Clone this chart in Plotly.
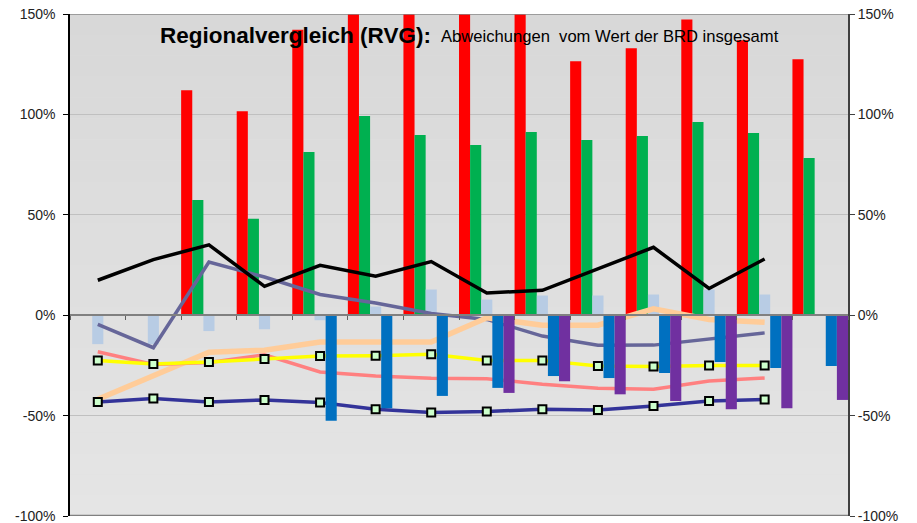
import plotly.graph_objects as go

categories = [f"Region {i}" for i in range(1, 15)]
line_categories = categories[:13]

# bar series (percent deviation)
red_vals = [None, None, 112.0, 101.6, 142.2, 152.0, 152.0, 152.0, 152.0, 126.5, 132.9, 147.3, 136.9, 127.5]
green_vals = [None, None, 57.4, 48.0, 81.3, 99.2, 89.7, 84.8, 91.2, 87.2, 89.2, 96.2, 90.7, 78.3]
lightblue_vals = [-14.4, -14.5, -7.9, -7.0, -2.5, 4.3, 12.8, 7.8, 9.8, 9.8, 10.3, 12.8, 10.3, None]
blue_vals = [None, None, None, None, -52.6, -46.3, -40.2, -36.2, -30.3, -31.3, -28.8, -23.3, -26.3, -25.3]
purple_vals = [None, None, None, None, None, None, None, -38.7, -32.9, -39.4, -42.7, -46.8, -46.3, -42.2]

# line series
black_vals = [17.4, 27.7, 35.0, 14.4, 24.8, 19.4, 26.7, 11.1, 12.4, 23.0, 33.8, 13.3, 28.0]
slate_vals = [-4.6, -16.2, 26.5, 19.0, 10.3, 6.1, 0.8, -2.1, -10.4, -15.0, -14.9, -11.7, -8.8]
yellow_vals = [-22.5, -24.3, -23.3, -21.8, -20.3, -20.2, -19.5, -22.5, -22.5, -25.3, -25.5, -25.1, -25.0]
navy_vals = [-43.2, -41.5, -43.2, -42.2, -43.5, -46.8, -48.5, -48.0, -46.8, -47.2, -45.2, -42.7, -42.0]
peach_vals = [-41.9, -30.0, -18.4, -17.4, -13.4, -13.3, -13.4, -1.3, -5.0, -5.0, 3.2, -2.1, -3.5]
salmon_vals = [-18.2, -24.5, -23.6, -19.7, -28.3, -30.3, -31.4, -31.6, -34.4, -36.4, -36.9, -32.8, -31.3]

tick_vals = [-100, -50, 0, 50, 100, 150]
tick_text = ["-100%", "-50%", "0%", "50%", "100%", "150%"]

FONT = "Arial, Liberation Sans, sans-serif"
W, H = 917, 523
ML, MR, MT, MB = 70, 69, 14, 7
YR = [-100, 150]

fig = go.Figure()

def bar(vals, color, offset, yaxis="y"):
    fig.add_trace(go.Bar(x=categories, y=vals, marker=dict(color=color, line=dict(width=0)),
                         width=0.2, offset=offset, yaxis=yaxis, showlegend=False, hoverinfo="skip"))

bar(red_vals, "#ff0000", -0.5)
bar(green_vals, "#00b050", -0.3)
bar(lightblue_vals, "#b8cce4", -0.1)

def line(vals, color, width, markers=False):
    fig.add_trace(go.Scatter(
        x=line_categories, y=vals, mode="lines+markers" if markers else "lines",
        line=dict(color=color, width=width),
        marker=dict(symbol="square", size=8, color="#ccffcc", line=dict(color="#000000", width=2)),
        showlegend=False, hoverinfo="skip"))

line(slate_vals, "#666699", 3.5)
line(peach_vals, "#ffcc99", 5.5)
line(salmon_vals, "#ff8080", 3.5)
line(black_vals, "#000000", 3.5)
line(yellow_vals, "#ffff00", 3.5, markers=True)
line(navy_vals, "#333399", 3.5, markers=True)

# blue / purple bars drawn above the lines (overlay axis)
bar(blue_vals, "#0070c0", 0.1, yaxis="y2")
bar(purple_vals, "#7030a0", 0.3, yaxis="y2")

# background gradient bands
shapes = []
n = 24
for i in range(n):
    y0 = YR[0] + (YR[1] - YR[0]) * i / n
    y1 = YR[0] + (YR[1] - YR[0]) * (i + 1) / n
    c = round(229 - (229 - 216) * (i + 0.5) / n)
    shapes.append(dict(type="rect", xref="x domain", yref="y", x0=0, x1=1, y0=y0, y1=y1,
                       fillcolor=f"rgb({c},{c},{c})", line=dict(width=0), layer="below"))
# top and bottom borders
shapes.append(dict(type="line", xref="x domain", yref="y", x0=0, x1=1, y0=150, y1=150,
                   line=dict(color="#888888", width=1.5), layer="above"))
shapes.append(dict(type="line", xref="x domain", yref="y", x0=0, x1=1, y0=-100, y1=-100,
                   line=dict(color="#808080", width=2.5), layer="above"))

px_to_x = lambda px: (px - ML) / (W - ML - MR)
px_to_y = lambda py: 1 - (py - MT) / (H - MT - MB)

annotations = [
    dict(text="<b>Regionalvergleich (RVG):</b>", x=px_to_x(158), y=px_to_y(36), xref="paper", yref="paper",
         xanchor="left", yanchor="middle", showarrow=False, font=dict(family=FONT, size=22.5, color="#000000")),
    dict(text="Abweichungen&nbsp; vom Wert der BRD insgesamt", x=px_to_x(439), y=px_to_y(37), xref="paper", yref="paper",
         xanchor="left", yanchor="middle", showarrow=False, font=dict(family=FONT, size=16.6, color="#000000")),
]

fig.update_layout(
    width=W, height=H,
    margin=dict(l=ML, r=MR, t=MT, b=MB, pad=0, autoexpand=False),
    paper_bgcolor="#ffffff", plot_bgcolor="#e0e0e0",
    barmode="overlay",
    showlegend=False,
    font=dict(family=FONT, size=14, color="#222222"),
    xaxis=dict(type="category", categoryorder="array", categoryarray=categories,
               range=[-0.5, 13.5], anchor="free", position=0.4, side="bottom",
               showline=True, linecolor="#808080", linewidth=2,
               tickson="boundaries", ticks="outside", ticklen=4, tickcolor="#606060", tickwidth=1,
               showticklabels=False, showgrid=False, zeroline=False, automargin=False),
    yaxis=dict(range=YR, tickvals=tick_vals, ticktext=tick_text,
               showline=True, linecolor="#000000", linewidth=1.5,
               ticks="outside", ticklen=5, tickcolor="#000000",
               showgrid=True, gridcolor="#c0c0c0", gridwidth=1, zeroline=False,
               ticklabelstandoff=5, ticklabeloverflow="allow", automargin=False,
               tickfont=dict(family=FONT, size=14, color="#222222")),
    yaxis2=dict(range=YR, overlaying="y", side="right", tickvals=tick_vals, ticktext=tick_text,
                showline=True, linecolor="#404040", linewidth=2,
                ticks="outside", ticklen=5, tickcolor="#404040",
                showgrid=False, zeroline=False, ticklabeloverflow="allow", automargin=False,
                tickfont=dict(family=FONT, size=14, color="#222222")),
    shapes=shapes,
    annotations=annotations,
)

fig.write_html("out.html", post_script="document.body.style.margin='0';",
               config={"displayModeBar": False})
